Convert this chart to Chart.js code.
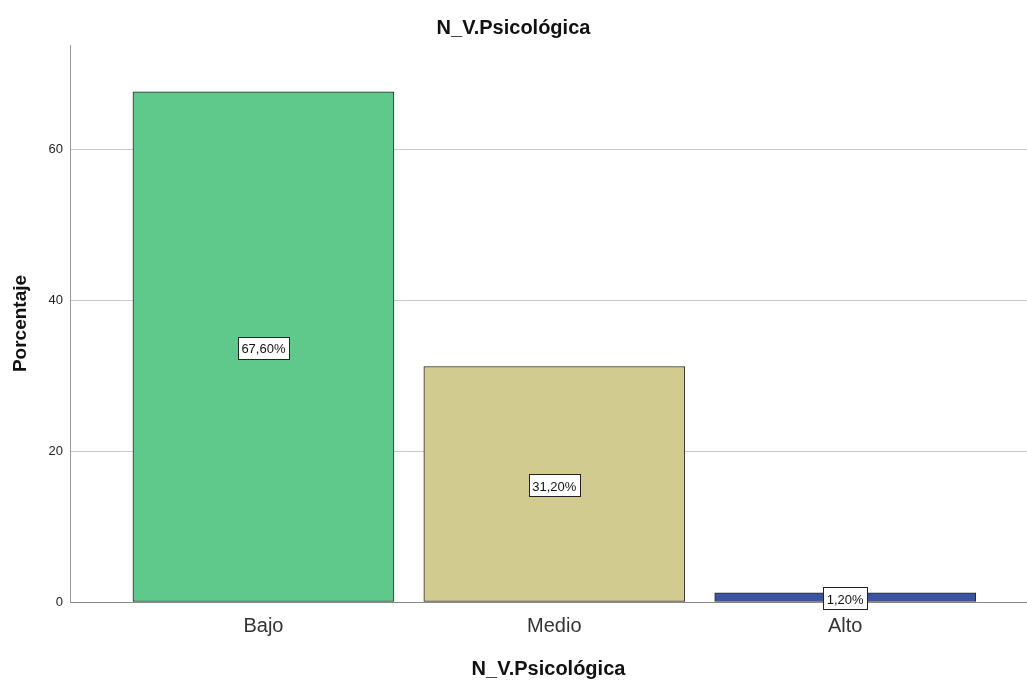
<!DOCTYPE html>
<html>
<head>
<meta charset="utf-8">
<script src="https://cdn.jsdelivr.net/npm/chart.js@4"></script>
<style>
  html, body { margin: 0; padding: 0; background: #fff; }
  #wrap { width: 1027px; height: 682px; }
</style>
</head>
<body>
<div id="wrap"><canvas id="barChart"></canvas></div>
<script>
// data
const categories = ['Bajo', 'Medio', 'Alto'];
const percentages = [67.6, 31.2, 1.2];
const barColors = ['#5ec98a', '#d2cb8f', '#3a54a4'];
const yTicks = [0, 20, 40, 60];

// white boxed value labels in the middle of each bar
const valueLabels = {
    id: 'valueLabels',
    afterDatasetsDraw(chart) {
        const ctx = chart.ctx;
        const meta = chart.getDatasetMeta(0);
        ctx.save();
        ctx.font = '13px "Liberation Sans", Arial, sans-serif';
        ctx.textAlign = 'center';
        ctx.textBaseline = 'middle';
        meta.data.forEach((bar, i) => {
            const txt = percentages[i].toFixed(2).replace('.', ',') + '%';
            const cy = (bar.y + bar.base) / 2 + 1;
            const w = Math.round(ctx.measureText(txt).width + 7);
            const h = 22;
            const left = Math.round(bar.x - w / 2);
            const top = Math.round(cy - h / 2);
            ctx.fillStyle = '#fff';
            ctx.fillRect(left, top, w, h);
            ctx.strokeStyle = '#222';
            ctx.lineWidth = 1;
            ctx.strokeRect(left + 0.5, top + 0.5, w, h);
            ctx.fillStyle = '#111';
            ctx.fillText(txt, bar.x, cy + 2);
        });
        ctx.restore();
    }
};

const chart = new Chart(document.getElementById('barChart'), {
    type: 'bar',
    data: {
        datasets: [{
            data: percentages.map((v, i) => ({ x: i, y: v })),
            backgroundColor: barColors,
            borderColor: '#2a2a2a',
            borderWidth: 1,
            borderSkipped: false,
            barThickness: 261
        }]
    },
    options: {
        responsive: true,
        maintainAspectRatio: false,
        animation: false,
        layout: { padding: { left: 0, right: 0, top: 0, bottom: 0 } },
        plugins: {
            legend: { display: false },
            tooltip: { enabled: false },
            title: {
                display: true,
                text: 'N_V.Psicológica',
                color: '#111',
                font: { family: '"Liberation Sans", Arial, sans-serif', size: 20, weight: 'bold' },
                padding: { top: 16, bottom: 5 }
            }
        },
        scales: {
            x: {
                type: 'linear',
                offset: false,
                min: -0.665,
                max: 2.625,
                grid: { display: false, drawTicks: false, offset: false },
                border: { display: true, color: '#888', width: 1 },
                afterBuildTicks(scale) {
                    scale.ticks = categories.map((c, i) => ({ value: i }));
                },
                afterFit(scale) { scale.height = 80; },
                ticks: {
                    autoSkip: false,
                    maxRotation: 0,
                    padding: 12,
                    color: '#333',
                    font: { family: '"Liberation Sans", Arial, sans-serif', size: 20 },
                    callback: (v) => categories[v]
                },
                title: {
                    display: true,
                    text: 'N_V.Psicológica',
                    color: '#111',
                    font: { family: '"Liberation Sans", Arial, sans-serif', size: 20, weight: 'bold' },
                    padding: { top: 0, bottom: 1 }
                }
            },
            y: {
                min: 0,
                max: 73.8,
                afterBuildTicks(scale) {
                    scale.ticks = yTicks.map(v => ({ value: v }));
                },
                afterFit(scale) { scale.width = 70; },
                grid: { color: '#c8c8c8', drawTicks: false },
                border: { display: true, color: '#999', width: 1 },
                ticks: {
                    padding: 7,
                    color: '#222',
                    font: { family: '"Liberation Sans", Arial, sans-serif', size: 13 }
                },
                title: {
                    display: true,
                    text: 'Porcentaje',
                    color: '#111',
                    font: { family: '"Liberation Sans", Arial, sans-serif', size: 19, weight: 'bold' },
                    padding: { top: 9, bottom: 0 }
                }
            }
        }
    },
    plugins: [valueLabels]
});
</script>
</body>
</html>
